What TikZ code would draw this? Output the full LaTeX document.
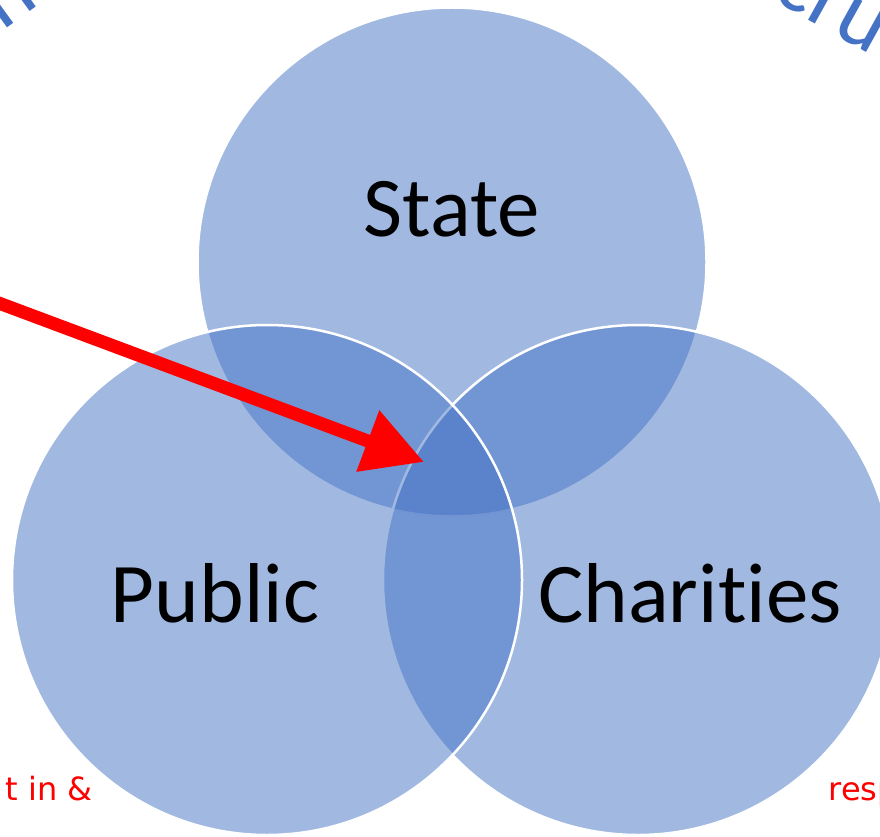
\documentclass[tikz,border=0pt]{standalone}
\usepackage{fontspec}
\setmainfont{Carlito}[Ligatures={NoCommon}]
\newfontfamily\notefont{DejaVu Sans}
\usetikzlibrary{arrows.meta,positioning}
\definecolor{venn}{HTML}{4472C4}

\begin{document}
\begin{tikzpicture}[x=1pt,y=-1pt,
    set/.style={circle,fill=venn,fill opacity=0.5,draw=white,line width=2.5pt,inner sep=0pt,minimum size=510pt},
    setname/.style={anchor=base,font=\fontsize{85}{90}\selectfont},
    note/.style={anchor=base west,text=red,font=\notefont\fontsize{32}{36}\selectfont},
    arcword/.style={anchor=base west,text=venn,font=\fontsize{90}{100}\selectfont},
    pointer/.style={draw=red,line width=13pt,-{Triangle[length=60pt,width=62pt]}}]
  \useasboundingbox (0,0) rectangle (880,837);
  \clip (0,0) rectangle (880,837);

  % the three sets
  \node[set,minimum size=509pt] (state) at (452,262) {};
  \node[set] (charities) at (638,580) {};
  \node[set] (public) at (267,580) {};

  \node[setname] (statename) at (452,236) {State};
  \node[setname] (publicname) at (215,622) {Public};
  \node[setname] (charitiesname) at (690,622) {Charities};

  % title running round the top, mostly cut off
  \node[arcword,rotate=36] (titleleft) at (0,34) {n};
  \node[arcword,rotate=-29] (titleright) at (767,-3) {cru};

  % notes cut off at the bottom
  \node[note] (noteleft) at (2,800) {t in \&};
  \node[note] (noteright) at (825,800) {resp};

  \coordinate (arrowtail) at (-20,296);
  \coordinate (arrowtip) at (424,462);
  \draw[pointer] (arrowtail) -- (arrowtip);
\end{tikzpicture}
\end{document}
